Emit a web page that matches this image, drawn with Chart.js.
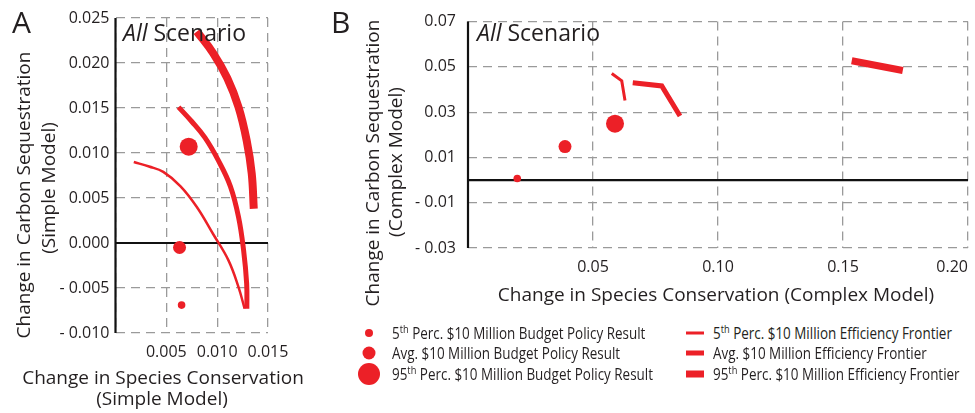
<!DOCTYPE html>
<html>
<head>
<meta charset="utf-8">
<script src="https://cdn.jsdelivr.net/npm/chart.js@4.4.1/dist/chart.umd.min.js"></script>
<style>
  body { margin: 0; width: 975px; height: 413px; overflow: hidden; position: relative; background: #fff; font-family: 'Open Sans', sans-serif; color: #231f20; }
  canvas { position: absolute; top: 0; }
  .lbl { position: absolute; white-space: nowrap; line-height: 1; transform: translate(-50%, -50%); }
  .rot { transform: translate(-50%, -50%) rotate(-90deg); }
  .title { font-size: 19px; }
  .panel { position: absolute; font-size: 30px; line-height: 1; }
  .scen { position: absolute; font-size: 23px; line-height: 1; }
  .leg { position: absolute; font-family: 'Open Sans', sans-serif; font-size: 16px; font-weight: 500; line-height: 1; transform: translateY(-50%) scaleX(0.84); transform-origin: left center; white-space: nowrap; }
  .leg sup { font-size: 11px; vertical-align: 6px; line-height: 0; }
  .dot { position: absolute; border-radius: 50%; background: rgb(236,32,39); transform: translate(-50%, -50%); }
  .bar { position: absolute; background: rgb(236,32,39); transform: translateY(-50%); width: 18px; }
</style>
</head>
<body>
<canvas id="chartA" width="300" height="370" style="left:0;width:300px;height:370px"></canvas>
<canvas id="chartB" width="665" height="300" style="left:330px;width:665px;height:300px"></canvas>

<div class="panel" style="left:12px;top:7px">A</div>
<div class="panel" style="left:331px;top:7px">B</div>
<div class="scen" style="left:123px;top:21px"><i>All</i> Scenario</div>
<div class="scen" style="left:477px;top:21px"><i>All</i> Scenario</div>

<div class="lbl rot title" style="left:23px;top:195px">Change in Carbon Sequestration</div>
<div class="lbl rot title" style="left:48px;top:188px">(Simple Model)</div>
<div class="lbl title" style="left:163px;top:377px">Change in Species Conservation</div>
<div class="lbl title" style="left:162px;top:398px">(Simple Model)</div>

<div class="lbl rot title" style="left:372px;top:163px">Change in Carbon Sequestration</div>
<div class="lbl rot title" style="left:395px;top:162px">(Complex Model)</div>
<div class="lbl title" style="left:716px;top:294px">Change in Species Conservation (Complex Model)</div>

<div class="dot" style="left:369px;top:333px;width:8px;height:8px"></div>
<div class="dot" style="left:369px;top:353px;width:13px;height:13px"></div>
<div class="dot" style="left:369px;top:374px;width:22px;height:22px"></div>
<div class="leg" style="left:392px;top:333px">5<sup>th</sup> Perc. $10 Million Budget Policy Result</div>
<div class="leg" style="left:392px;top:353px">Avg. $10 Million Budget Policy Result</div>
<div class="leg" style="left:392px;top:374px">95<sup>th</sup> Perc. $10 Million Budget Policy Result</div>

<div class="bar" style="left:686px;top:333px;height:3px"></div>
<div class="bar" style="left:686px;top:353px;height:5px"></div>
<div class="bar" style="left:686px;top:374px;height:7px"></div>
<div class="leg" style="left:713px;top:333px">5<sup>th</sup> Perc. $10 Million Efficiency Frontier</div>
<div class="leg" style="left:713px;top:353px">Avg. $10 Million Efficiency Frontier</div>
<div class="leg" style="left:713px;top:374px">95<sup>th</sup> Perc. $10 Million Efficiency Frontier</div>

<script>
// Panel A : simple model, efficiency frontiers (5th, avg, 95th percentile)
var aFront5X = [0.0018, 0.0033, 0.0047, 0.0064, 0.0080, 0.0096, 0.0111, 0.0121, 0.0127];
var aFront5Y = [0.0090, 0.0085, 0.0079, 0.0063, 0.0040, 0.0010, -0.0019, -0.0049, -0.0073];
var aFrontAvgX = [0.0062, 0.0075, 0.0088, 0.0101, 0.0113, 0.0121, 0.0126, 0.0129, 0.01292];
var aFrontAvgY = [0.0151, 0.0135, 0.0117, 0.0092, 0.0063, 0.0029, -0.0008, -0.0045, -0.0073];
var aFront95X = [0.0080, 0.0096, 0.0110, 0.0121, 0.0129, 0.0134, 0.0136];
var aFront95Y = [0.0235, 0.0211, 0.0183, 0.0151, 0.0114, 0.0077, 0.0038];
// Panel A : $10 million budget policy results (5th, avg, 95th)
var aPolicyX = [0.0065, 0.0063, 0.0072];
var aPolicyY = [-0.0069, -0.0005, 0.0107];

// Panel B : complex model
var bFront5X = [0.0575, 0.0615, 0.0628];
var bFront5Y = [0.0471, 0.0438, 0.0351];
var bFrontAvgX = [0.0659, 0.0775, 0.0848];
var bFrontAvgY = [0.0430, 0.0416, 0.0283];
var bFront95X = [0.1535, 0.1739];
var bFront95Y = [0.0527, 0.0484];
var bPolicyX = [0.0197, 0.0388, 0.0588];
var bPolicyY = [0.0007, 0.0148, 0.0249];

var red = "rgb(236,32,39)";
var tickFont = { family: "'Open Sans', sans-serif", size: 16 };

function toPoints(xs, ys) {
  var pts = [];
  for (var i = 0; i < xs.length; i++) pts.push({ x: xs[i], y: ys[i] });
  return pts;
}

function fmt(digits) {
  return function (v) {
    if (Math.abs(v) < 1e-9) return digits === 3 ? "0.000" : "0.00";
    return v < 0 ? "- " + Math.abs(v).toFixed(digits) : v.toFixed(digits);
  };
}

// black left axis and zero line, drawn under the marks
var axisLines = {
  id: "axisLines",
  beforeDatasetsDraw: function (chart) {
    var ctx = chart.ctx, a = chart.chartArea;
    var y0 = chart.scales.y.getPixelForValue(0);
    ctx.save();
    ctx.strokeStyle = "#111";
    ctx.lineWidth = 2.2;
    ctx.beginPath();
    ctx.moveTo(a.left, y0);
    ctx.lineTo(a.right, y0);
    ctx.moveTo(a.left, a.top);
    ctx.lineTo(a.left, a.bottom);
    ctx.stroke();
    ctx.restore();
  }
};

function frontier(xs, ys, width, tension) {
  return {
    type: "line",
    data: toPoints(xs, ys),
    borderColor: red,
    borderWidth: width,
    tension: tension,
    pointRadius: 0,
    borderCapStyle: "butt",
    borderJoinStyle: "miter",
    fill: false
  };
}

function policy(xs, ys) {
  return {
    type: "scatter",
    data: toPoints(xs, ys),
    backgroundColor: red,
    borderWidth: 0,
    pointRadius: [3.8, 6.5, 9]
  };
}

function makeScales(o) {
  var grid = { color: "#9a9a9a", lineWidth: 1.3, drawTicks: false };
  var border = { display: false, dash: [9, 6] };
  return {
    x: {
      type: "linear", min: o.xMin, max: o.xMax,
      grid: grid, border: border,
      ticks: {
        stepSize: o.xStep, font: tickFont, color: "#231f20", padding: 10, maxRotation: 0,
        align: o.xAlign,
        callback: function (v) { return Math.abs(v) < 1e-9 ? "" : v.toFixed(o.xDigits); }
      },
      afterFit: function (s) { s.height = o.xHeight; }
    },
    y: {
      type: "linear", min: o.yMin, max: o.yMax,
      grid: grid, border: border,
      ticks: { stepSize: o.yStep, font: tickFont, color: "#231f20", padding: o.yPad, callback: fmt(o.yDigits) },
      afterFit: function (s) { s.width = o.yWidth; }
    }
  };
}

var common = {
  responsive: false,
  animation: false,
  plugins: { legend: { display: false }, tooltip: { enabled: false } }
};

new Chart(document.getElementById("chartA").getContext("2d"), {
  type: "scatter",
  data: {
    datasets: [
      frontier(aFront95X, aFront95Y, 8, 0.4),
      frontier(aFrontAvgX, aFrontAvgY, 5, 0.4),
      frontier(aFront5X, aFront5Y, 2.5, 0.4),
      policy(aPolicyX, aPolicyY)
    ]
  },
  options: Object.assign({}, common, {
    layout: { padding: { top: 18, right: 32, left: 0, bottom: 0 } },
    scales: makeScales({
      xMin: 0, xMax: 0.015, xStep: 0.005, xDigits: 3, xHeight: 37, xAlign: "center",
      yMin: -0.010, yMax: 0.025, yStep: 0.005, yDigits: 3, yWidth: 115.5, yPad: 6
    })
  }),
  plugins: [axisLines]
});

new Chart(document.getElementById("chartB").getContext("2d"), {
  type: "scatter",
  data: {
    datasets: [
      frontier(bFront95X, bFront95Y, 7, 0),
      frontier(bFrontAvgX, bFrontAvgY, 5, 0),
      frontier(bFront5X, bFront5Y, 3, 0),
      policy(bPolicyX, bPolicyY)
    ]
  },
  options: Object.assign({}, common, {
    layout: { padding: { top: 18, right: 27, left: 0, bottom: 0 } },
    scales: makeScales({
      xMin: 0, xMax: 0.20, xStep: 0.05, xDigits: 2, xHeight: 52, xAlign: "inner",
      yMin: -0.03, yMax: 0.07, yStep: 0.02, yDigits: 2, yWidth: 138, yPad: 12
    })
  }),
  plugins: [axisLines]
});
</script>
</body>
</html>
